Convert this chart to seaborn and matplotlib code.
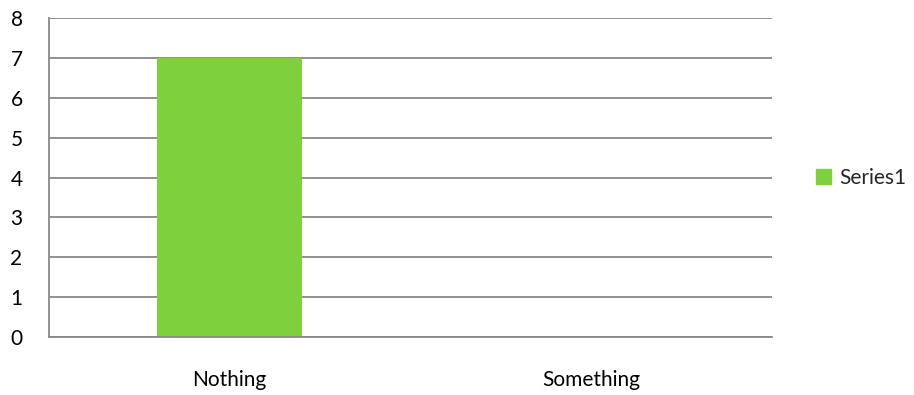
import matplotlib
matplotlib.use("Agg")
import matplotlib.pyplot as plt
import matplotlib.patches as mpatches
import seaborn as sns
import pandas as pd

categories = ["Nothing", "Something"]
values = [7, 0]
series_name = "Series1"

df = pd.DataFrame({"cat": categories, "val": values})

sns.set_style("white")
plt.rcParams["font.family"] = ["Lato", "DejaVu Sans"]

fig = plt.figure(figsize=(9.14, 3.95), dpi=100)
ax = fig.add_axes([0.0536, 0.1468, 0.791, 0.8076])

green = "#7ED13C"
sns.barplot(data=df, x="cat", y="val", color=green, width=0.4, ax=ax,
            saturation=1, linewidth=0)

ax.set_ylim(0, 8)
ax.set_yticks(range(0, 9))
ax.set_xlim(-0.5, 1.5)
ax.yaxis.grid(True, color="#888888", linewidth=1.3)
ax.set_axisbelow(True)
for s in ["top", "right"]:
    ax.spines[s].set_visible(False)
for s in ["left", "bottom"]:
    ax.spines[s].set_color("#888888")
    ax.spines[s].set_linewidth(1.3)
ax.tick_params(axis="y", length=0, pad=19, labelsize=15, colors="black")
ax.tick_params(axis="x", length=0, pad=24, labelsize=15, colors="black")
ax.set_xlabel("")
ax.set_ylabel("")

handle = mpatches.Patch(color=green, label=series_name)
ax.legend(handles=[handle], loc="center left", bbox_to_anchor=(1.035, 0.5),
          frameon=False, fontsize=15, handlelength=0.7, handleheight=0.7,
          handletextpad=0.4)

fig.savefig("out.png", dpi=100)
